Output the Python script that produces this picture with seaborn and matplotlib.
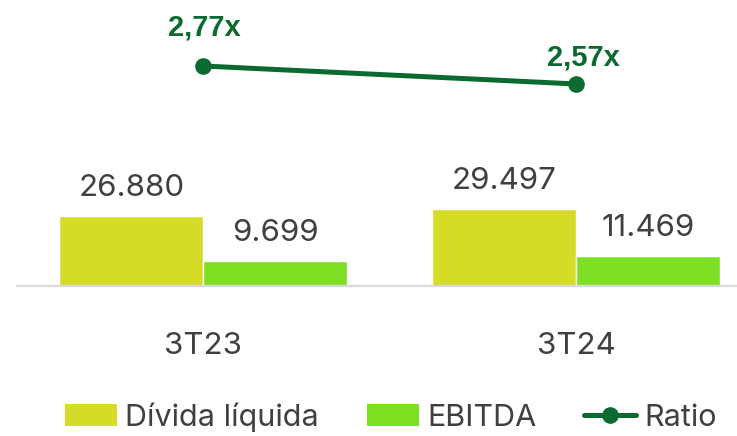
import matplotlib
matplotlib.use("Agg")
import matplotlib.pyplot as plt
from matplotlib.lines import Line2D
from matplotlib.patches import Patch
import seaborn as sns
import pandas as pd

# Data
periods = ["3T23", "3T24"]
divida_liquida = [26880, 29497]
ebitda = [9699, 11469]
ratio = [2.77, 2.57]
series_names = ["Dívida líquida", "EBITDA"]
ratio_name = "Ratio"

C_DIVIDA = "#d4dc27"
C_EBITDA = "#7ee022"
C_RATIO = "#0b6a2f"
C_TEXT = "#404040"

df = pd.DataFrame({
    "period": periods * 2,
    "serie": [series_names[0]] * len(periods) + [series_names[1]] * len(periods),
    "valor": divida_liquida + ebitda,
})

sns.set_theme(style="white")
plt.rcParams["font.family"] = ["Inter", "DejaVu Sans"]

fig = plt.figure(figsize=(7.37, 4.36), dpi=100)
ax = fig.add_axes([17 / 737, (436 - 286) / 436, 1 - 17 / 737, 286 / 436])

sns.barplot(data=df, x="period", y="valor", hue="serie", order=periods,
            hue_order=series_names, palette=[C_DIVIDA, C_EBITDA],
            width=0.772, gap=0, saturation=1, ax=ax, legend=False)

ax.set_xlim(-0.5, 1.432)
ax.set_ylim(0, 110000)
ax.set_xlabel("")
ax.set_ylabel("")
ax.set_yticks([])
for side in ["top", "right", "left"]:
    ax.spines[side].set_visible(False)
ax.spines["bottom"].set_color("#d9d9d9")
ax.spines["bottom"].set_linewidth(1.6)
ax.tick_params(axis="x", length=0, pad=33, labelsize=22.5, labelcolor=C_TEXT)

# value labels above the bars
for container, vals in zip(ax.containers, [divida_liquida, ebitda]):
    for patch, v in zip(container.patches, vals):
        ax.annotate(f"{v:,}".replace(",", "."),
                    xy=(patch.get_x() + patch.get_width() / 2, patch.get_height()),
                    xytext=(0, 20), textcoords="offset pixels",
                    ha="center", va="baseline", fontsize=22.5, color=C_TEXT)

# ratio line on a secondary axis
ax2 = ax.twinx()
sns.lineplot(x=[0, 1], y=ratio, ax=ax2, color=C_RATIO, linewidth=3.6,
             marker="o", markersize=12, markeredgewidth=0, legend=False)
ax2.set_ylim(0.326, 3.503)
ax2.set_yticks([])
ax2.set_ylabel("")
for side in ["top", "right", "left", "bottom"]:
    ax2.spines[side].set_visible(False)

label_offsets = [(1, 30), (7, 18)]
for i, (r, off) in enumerate(zip(ratio, label_offsets)):
    ax2.annotate(f"{r:.2f}x".replace(".", ","), xy=(i, r), xytext=off,
                 textcoords="offset pixels", ha="center", va="baseline",
                 fontsize=21, fontweight="bold", color=C_RATIO,
                 family=["Liberation Sans", "DejaVu Sans"])

handles = [
    Patch(facecolor=C_DIVIDA, edgecolor="none"),
    Patch(facecolor=C_EBITDA, edgecolor="none"),
    Line2D([0], [0], color=C_RATIO, linewidth=3.6, marker="o", markersize=12,
           markeredgewidth=0),
]
fig.legend(handles, series_names + [ratio_name], loc="center",
           bbox_to_anchor=(391 / 737, (436 - 417) / 436), ncol=3, frameon=False,
           fontsize=22, labelcolor=C_TEXT, handlelength=1.7, handleheight=0.72,
           handletextpad=0.26, columnspacing=1.58, borderaxespad=0, borderpad=0)

fig.savefig("out.png", dpi=100)
